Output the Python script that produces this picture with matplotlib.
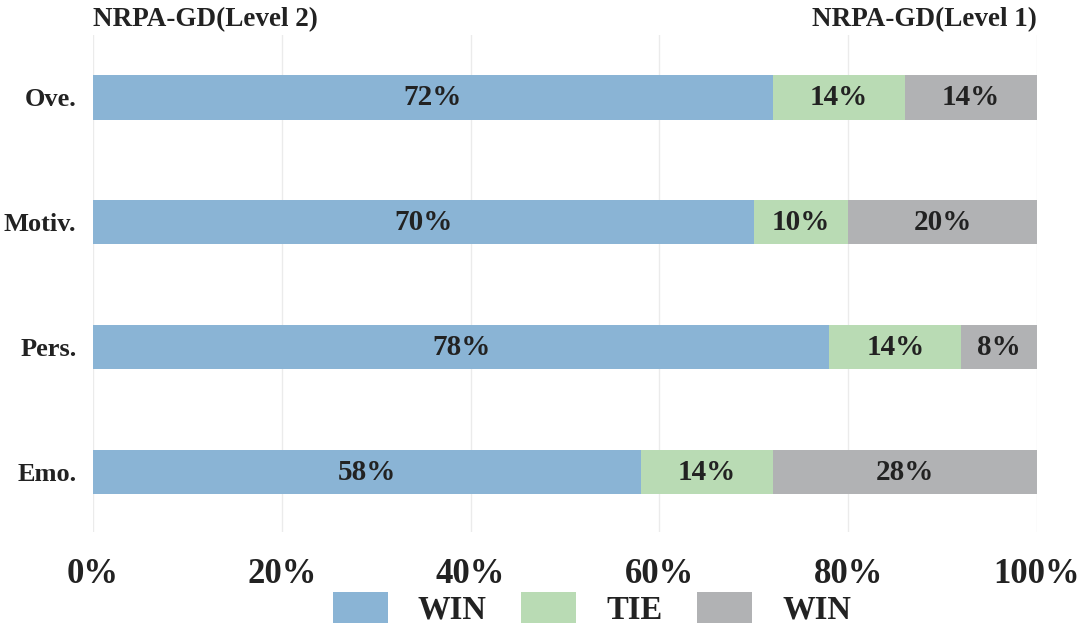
import matplotlib.pyplot as plt
import numpy as np
from matplotlib.patches import Patch

plt.rcParams['font.family'] = ['Liberation Serif', 'DejaVu Serif']
plt.rcParams['font.weight'] = 'bold'

# data
categories = ['Ove.', 'Motiv.', 'Pers.', 'Emo.']
win_l2 = [72, 70, 78, 58]
tie = [14, 10, 14, 14]
win_l1 = [14, 20, 8, 28]
legend_labels = ['WIN', 'TIE', 'WIN']
colors = ['#8ab4d5', '#b9dbb4', '#b1b2b4']
text_color = '#222222'

fig = plt.figure(figsize=(10.8, 6.33), dpi=100)
ax = fig.add_axes([93 / 1080, 1 - 532 / 633, (1037 - 93) / 1080, (532 - 35) / 633])

y = np.arange(len(categories))[::-1]
left = np.zeros(len(categories))
for vals, c in zip([win_l2, tie, win_l1], colors):
    vals = np.array(vals)
    ax.barh(y, vals, left=left, height=0.355, color=c, zorder=2)
    for yi, l, v in zip(y, left, vals):
        ax.text(l + v / 2, yi, '%d%%' % v, ha='center', va='center',
                fontsize=21, fontweight='bold', color=text_color, zorder=3)
    left = left + vals

ax.set_xlim(0, 100)
ax.set_ylim(-0.48, 3.5)
ax.set_xticks(np.arange(0, 101, 20))
ax.set_xticklabels(['%d%%' % t for t in range(0, 101, 20)])
ax.set_yticks(y)
ax.set_yticklabels(categories)
ax.tick_params(axis='x', labelsize=25, length=0, pad=19, colors=text_color)
ax.tick_params(axis='y', labelsize=19, length=0, pad=12, colors=text_color)
ax.grid(axis='x', color='#ebebeb', linewidth=1, zorder=0)
for s in ax.spines.values():
    s.set_visible(False)

fig.text(93 / 1080, 1 - 20 / 633, 'NRPA-GD(Level 2)', ha='left', va='center',
         fontsize=19.5, fontweight='bold', color=text_color)
fig.text(1037 / 1080, 1 - 20 / 633, 'NRPA-GD(Level 1)', ha='right', va='center',
         fontsize=19.5, fontweight='bold', color=text_color)

handles = [Patch(facecolor=c) for c in colors]
fig.legend(handles, legend_labels, loc='center', bbox_to_anchor=(0.548, 1 - 609 / 633),
           ncol=3, frameon=False, fontsize=23.5, handlelength=1.69, handleheight=1.1,
           columnspacing=1.05, handletextpad=0.92, labelcolor=text_color,
           borderpad=0, borderaxespad=0)

fig.savefig('out.png', dpi=100)
